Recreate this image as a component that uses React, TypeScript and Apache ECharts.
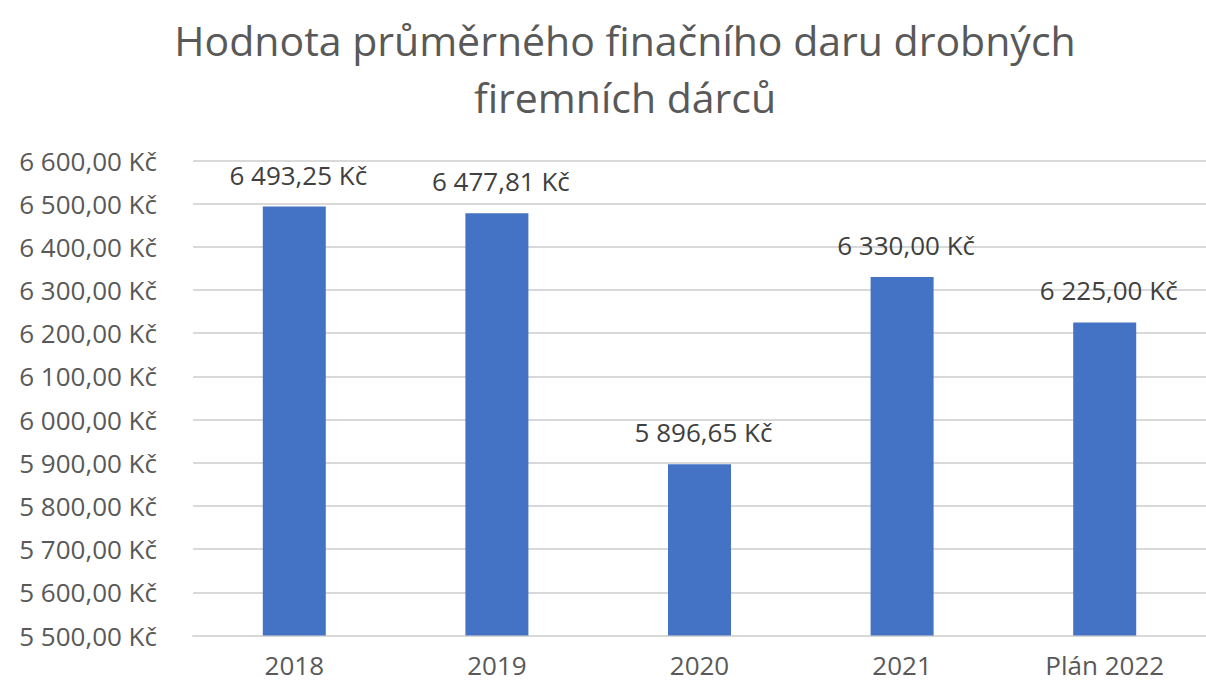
import React, { useEffect, useRef } from "react";
import * as echarts from "echarts";

const categories = ["2018", "2019", "2020", "2021", "Plán 2022"];
const values = [6493.25, 6477.81, 5896.65, 6330.0, 6225.0];
const titleText = "Hodnota průměrného finačního daru drobných\nfiremních dárců";
const yMin = 5500;
const yMax = 6600;
const yStep = 100;

function fmt(v: number): string {
  const [i, d] = v.toFixed(2).split(".");
  const grouped = i.replace(/\B(?=(\d{3})+(?!\d))/g, " ");
  return `${grouped},${d} Kč`;
}

const FONT = "Open Sans";

export default function App() {
  const ref = useRef<HTMLDivElement>(null);
  useEffect(() => {
    if (!ref.current) return;
    const chart = echarts.init(ref.current, null, { renderer: "svg" });
    chart.setOption({
      animation: false,
      backgroundColor: "#ffffff",
      title: {
        text: titleText,
        left: 620,
        textAlign: "center",
        top: 6,
        textStyle: {
          fontFamily: FONT,
          fontSize: 41,
          fontWeight: "normal",
          color: "#595959",
          lineHeight: 57,
        },
      },
      grid: { left: 193, width: 1026, top: 160.5, height: 475, containLabel: false },
      xAxis: {
        type: "category",
        data: categories,
        axisLine: { lineStyle: { color: "#D9D9D9", width: 2 } },
        axisTick: { show: false },
        axisLabel: { fontFamily: FONT, fontSize: 26, color: "#595959", margin: 16 },
      },
      yAxis: {
        type: "value",
        min: yMin,
        max: yMax,
        interval: yStep,
        axisLine: { show: false },
        axisTick: { show: false },
        splitLine: { lineStyle: { color: "#D9D9D9", width: 2 } },
        axisLabel: {
          fontFamily: FONT,
          fontSize: 26,
          color: "#595959",
          margin: 36,
          formatter: (v: number) => fmt(v),
        },
      },
      series: [
        {
          type: "bar",
          data: values,
          barWidth: 63,
          itemStyle: { color: "#4472C4" },
          label: {
            show: true,
            position: "top",
            distance: 19,
            offset: [4, 0],
            fontFamily: FONT,
            fontSize: 26,
            color: "#404040",
            formatter: (p: any) => fmt(p.value),
          },
        },
      ],
    });
    return () => chart.dispose();
  }, []);
  return (
    <div
      ref={ref}
      style={{ position: "fixed", left: 0, top: 0, width: 1206, height: 686 }}
    />
  );
}
